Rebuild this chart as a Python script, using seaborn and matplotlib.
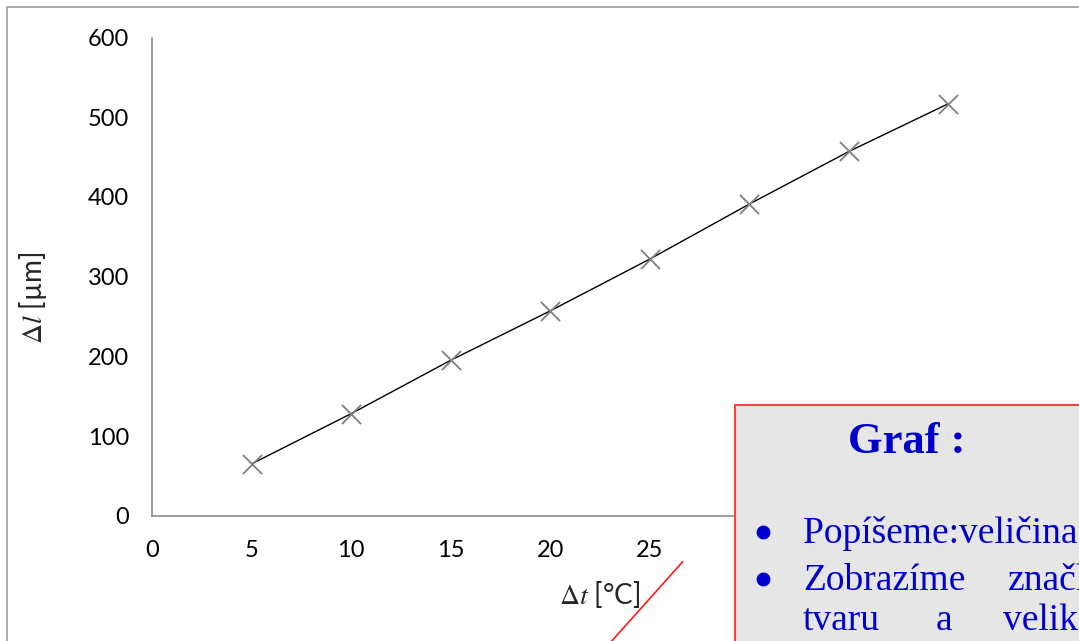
import matplotlib
matplotlib.use("Agg")
import matplotlib.pyplot as plt
from matplotlib.patches import Rectangle
from matplotlib.lines import Line2D
import seaborn as sns
import pandas as pd

# measured data
delta_t = [5, 10, 15, 20, 25, 30, 35, 40]
delta_l = [65, 128, 195, 257, 322, 391, 457, 517]

x_ticks = [0, 5, 10, 15, 20, 25, 30, 35, 40, 45]
y_ticks = [0, 100, 200, 300, 400, 500, 600]

box_title = "Graf :"
bullet_1 = "Popíšeme:veličina, jednotka"
bullet_2_words = ["Zobrazíme", "značky"]
bullet_3_words = ["tvaru", "a", "velikosti"]

df = pd.DataFrame({"dt": delta_t, "dl": delta_l})

sns.set_style("white")
plt.rcParams["font.family"] = ["Lato", "DejaVu Sans"]
plt.rcParams["mathtext.fontset"] = "stix"

W, H = 1079, 641
fig = plt.figure(figsize=(W / 100, H / 100), dpi=100)
ax = fig.add_axes([152 / W, 1 - 515.7 / H, 896 / W, 478.2 / H])

sns.lineplot(data=df, x="dt", y="dl", ax=ax, color="black", linewidth=1.0, zorder=2)
sns.scatterplot(data=df, x="dt", y="dl", ax=ax, marker="x", color="#7f7f7f",
                s=190, linewidth=1.3, zorder=3)

ax.set_xlim(0, 45)
ax.set_ylim(0, 600)
ax.set_xticks(x_ticks)
# labels right of 25 sit under the slide box, so leave them blank
ax.set_xticklabels([str(t) if t <= 25 else "" for t in x_ticks])
ax.set_yticks(y_ticks)
for s in ["top", "right"]:
    ax.spines[s].set_visible(False)
for s in ["left", "bottom"]:
    ax.spines[s].set_color("#8c8c8c")
    ax.spines[s].set_linewidth(1.2)
ax.tick_params(axis="both", direction="out", length=5.5, width=1.0, color="#8c8c8c",
               labelsize=17, labelcolor="black")
ax.tick_params(axis="x", pad=12)
ax.tick_params(axis="y", pad=11)
ax.set_xlabel("")
ax.set_ylabel("")

fig.text(600 / W, 1 - 595 / H, r"$\Delta t$ [°C]", fontsize=20, ha="center", va="center")
fig.text(33 / W, 1 - 298 / H, r"$\Delta l$ [µm]", fontsize=20, ha="center", va="center",
         rotation=90)

# outer chart frame
fig.patches.append(Rectangle((7 / W, -0.1), 1.2, 1 - 7 / H + 0.1, transform=fig.transFigure,
                             fill=False, edgecolor="#a6a6a6", linewidth=1.3, zorder=1))

# red stroke at the bottom
fig.lines.append(Line2D([682.7 / W, 610 / W], [1 - 561.7 / H, 1 - 643 / H],
                        transform=fig.transFigure, color="#ff1a1a", linewidth=1.2, zorder=5))

# slide text box
fig.patches.append(Rectangle((735 / W, -0.1), 1.0, 1 - 405 / H + 0.1, transform=fig.transFigure,
                             facecolor="#e6e6e6", edgecolor="#ff4040", linewidth=1.5, zorder=6))

serif = ["Liberation Serif", "DejaVu Serif"]
blue = "#0000cc"
fig.text(907 / W, 1 - 442 / H, box_title, fontsize=32, fontweight="bold", color=blue,
         family=serif, ha="center", va="center", zorder=7)

for yy in [532, 579]:
    fig.lines.append(Line2D([763 / W], [1 - yy / H], transform=fig.transFigure,
                            marker="o", markersize=9, color=blue, linestyle="none", zorder=7))

bullets_y = [543, 590, 630]
fig.text(803 / W, 1 - bullets_y[0] / H, bullet_1, fontsize=27, color=blue, family=serif,
         va="baseline", zorder=7)
for word, xx in zip(bullet_2_words, [803, 1008]):
    fig.text(xx / W, 1 - bullets_y[1] / H, word, fontsize=27, color=blue, family=serif,
             va="baseline", zorder=7)
for word, xx in zip(bullet_3_words, [803, 936, 1003]):
    fig.text(xx / W, 1 - bullets_y[2] / H, word, fontsize=27, color=blue, family=serif,
             va="baseline", zorder=7)

fig.savefig("out.png", dpi=100)
